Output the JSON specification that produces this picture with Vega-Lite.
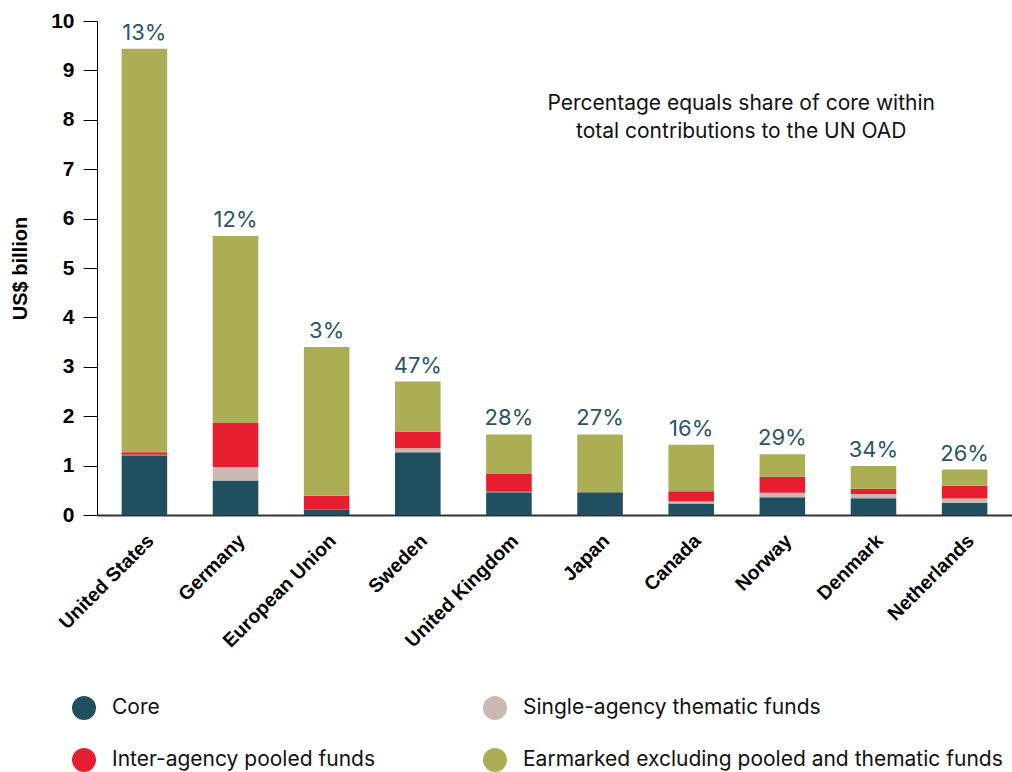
{
  "$schema": "https://vega.github.io/schema/vega-lite/v6.json",
  "width": 915,
  "height": 494,
  "padding": {"left": 10, "top": 10, "right": 0, "bottom": 0},
  "config": {"view": {"stroke": null}, "font": "Inter"},
  "datasets": {
    "parts": [
      {"country": "United States", "type": "Core", "value": 1.21},
      {"country": "United States", "type": "Single-agency thematic funds", "value": 0.01},
      {"country": "United States", "type": "Inter-agency pooled funds", "value": 0.05},
      {"country": "United States", "type": "Earmarked excluding pooled and thematic funds", "value": 8.17},
      {"country": "Germany", "type": "Core", "value": 0.70},
      {"country": "Germany", "type": "Single-agency thematic funds", "value": 0.27},
      {"country": "Germany", "type": "Inter-agency pooled funds", "value": 0.89},
      {"country": "Germany", "type": "Earmarked excluding pooled and thematic funds", "value": 3.79},
      {"country": "European Union", "type": "Core", "value": 0.11},
      {"country": "European Union", "type": "Single-agency thematic funds", "value": 0.0},
      {"country": "European Union", "type": "Inter-agency pooled funds", "value": 0.28},
      {"country": "European Union", "type": "Earmarked excluding pooled and thematic funds", "value": 3.01},
      {"country": "Sweden", "type": "Core", "value": 1.27},
      {"country": "Sweden", "type": "Single-agency thematic funds", "value": 0.08},
      {"country": "Sweden", "type": "Inter-agency pooled funds", "value": 0.34},
      {"country": "Sweden", "type": "Earmarked excluding pooled and thematic funds", "value": 1.01},
      {"country": "United Kingdom", "type": "Core", "value": 0.46},
      {"country": "United Kingdom", "type": "Single-agency thematic funds", "value": 0.01},
      {"country": "United Kingdom", "type": "Inter-agency pooled funds", "value": 0.36},
      {"country": "United Kingdom", "type": "Earmarked excluding pooled and thematic funds", "value": 0.80},
      {"country": "Japan", "type": "Core", "value": 0.46},
      {"country": "Japan", "type": "Single-agency thematic funds", "value": 0.0},
      {"country": "Japan", "type": "Inter-agency pooled funds", "value": 0.0},
      {"country": "Japan", "type": "Earmarked excluding pooled and thematic funds", "value": 1.17},
      {"country": "Canada", "type": "Core", "value": 0.235},
      {"country": "Canada", "type": "Single-agency thematic funds", "value": 0.04},
      {"country": "Canada", "type": "Inter-agency pooled funds", "value": 0.205},
      {"country": "Canada", "type": "Earmarked excluding pooled and thematic funds", "value": 0.94},
      {"country": "Norway", "type": "Core", "value": 0.36},
      {"country": "Norway", "type": "Single-agency thematic funds", "value": 0.09},
      {"country": "Norway", "type": "Inter-agency pooled funds", "value": 0.325},
      {"country": "Norway", "type": "Earmarked excluding pooled and thematic funds", "value": 0.455},
      {"country": "Denmark", "type": "Core", "value": 0.34},
      {"country": "Denmark", "type": "Single-agency thematic funds", "value": 0.085},
      {"country": "Denmark", "type": "Inter-agency pooled funds", "value": 0.105},
      {"country": "Denmark", "type": "Earmarked excluding pooled and thematic funds", "value": 0.46},
      {"country": "Netherlands", "type": "Core", "value": 0.245},
      {"country": "Netherlands", "type": "Single-agency thematic funds", "value": 0.09},
      {"country": "Netherlands", "type": "Inter-agency pooled funds", "value": 0.255},
      {"country": "Netherlands", "type": "Earmarked excluding pooled and thematic funds", "value": 0.33}
    ],
    "shares": [
      {"country": "United States", "share": "13%"},
      {"country": "Germany", "share": "12%"},
      {"country": "European Union", "share": "3%"},
      {"country": "Sweden", "share": "47%"},
      {"country": "United Kingdom", "share": "28%"},
      {"country": "Japan", "share": "27%"},
      {"country": "Canada", "share": "16%"},
      {"country": "Norway", "share": "29%"},
      {"country": "Denmark", "share": "34%"},
      {"country": "Netherlands", "share": "26%"}
    ]
  },
  "encoding": {
    "x": {
      "field": "country",
      "type": "nominal",
      "sort": null,
      "scale": {"paddingInner": 0.5, "paddingOuter": 0.27},
      "axis": {
        "title": null,
        "ticks": false,
        "domainColor": "#333333",
        "domainWidth": 2,
        "labelAngle": -45,
        "labelFont": "Liberation Sans",
        "labelFontWeight": "bold",
        "labelFontSize": 19.5,
        "labelColor": "#000000",
        "labelPadding": 16
      }
    }
  },
  "layer": [
    {
      "data": {"name": "parts"},
      "transform": [
        {"calculate": "indexof(['Core','Single-agency thematic funds','Inter-agency pooled funds','Earmarked excluding pooled and thematic funds'], datum.type)", "as": "k"}
      ],
      "mark": {"type": "bar"},
      "encoding": {
        "y": {
          "field": "value",
          "type": "quantitative",
          "stack": "zero",
          "scale": {"domain": [0, 10], "nice": false},
          "axis": {
            "title": "US$ billion",
            "titleFont": "Liberation Sans",
            "titleFontWeight": "bold",
            "titleFontSize": 20,
            "titleColor": "#000000",
            "titlePadding": 20,
            "values": [0, 1, 2, 3, 4, 5, 6, 7, 8, 9, 10],
            "grid": false,
            "domainColor": "#000000",
            "domainWidth": 1,
            "tickColor": "#000000",
            "tickSize": 14,
            "labelFont": "Liberation Sans",
            "labelFontWeight": "bold",
            "labelFontSize": 21,
            "labelColor": "#000000",
            "labelPadding": 9
          }
        },
        "color": {
          "field": "type",
          "type": "nominal",
          "scale": {
            "domain": ["Core", "Single-agency thematic funds", "Inter-agency pooled funds", "Earmarked excluding pooled and thematic funds"],
            "range": ["#204f60", "#c9b9b2", "#e61e30", "#acae55"]
          },
          "legend": {
            "title": null,
            "orient": "none",
            "legendX": -25,
            "legendY": 675,
            "columns": 2,
            "direction": "horizontal",
            "padding": 0,
            "symbolType": "circle",
            "symbolSize": 576,
            "symbolOpacity": 1,
            "symbolStrokeWidth": 0,
            "labelFont": "Inter",
            "labelFontSize": 21,
            "labelColor": "#111111",
            "labelOffset": 16,
            "labelLimit": 600,
            "columnPadding": 108,
            "rowPadding": 28
          }
        },
        "order": {"field": "k", "type": "quantitative"}
      }
    },
    {
      "data": {"name": "parts"},
      "transform": [
        {"aggregate": [{"op": "sum", "field": "value", "as": "total"}], "groupby": ["country"]},
        {"lookup": "country", "from": {"data": {"name": "shares"}, "key": "country", "fields": ["share"]}}
      ],
      "mark": {"type": "text", "baseline": "bottom", "dy": -4, "font": "Inter", "fontSize": 22, "color": "#2a5468"},
      "encoding": {
        "y": {"field": "total", "type": "quantitative"},
        "text": {"field": "share"}
      }
    },
    {
      "data": {"values": [{}]},
      "mark": {
        "type": "text",
        "text": ["Percentage equals share of core within", "total contributions to the UN OAD"],
        "font": "Inter",
        "fontSize": 21,
        "lineHeight": 28,
        "align": "center",
        "baseline": "middle",
        "dx": 50,
        "color": "#111111"
      },
      "encoding": {
        "x": {"datum": "Canada"},
        "y": {"datum": 8.32}
      }
    }
  ]
}
